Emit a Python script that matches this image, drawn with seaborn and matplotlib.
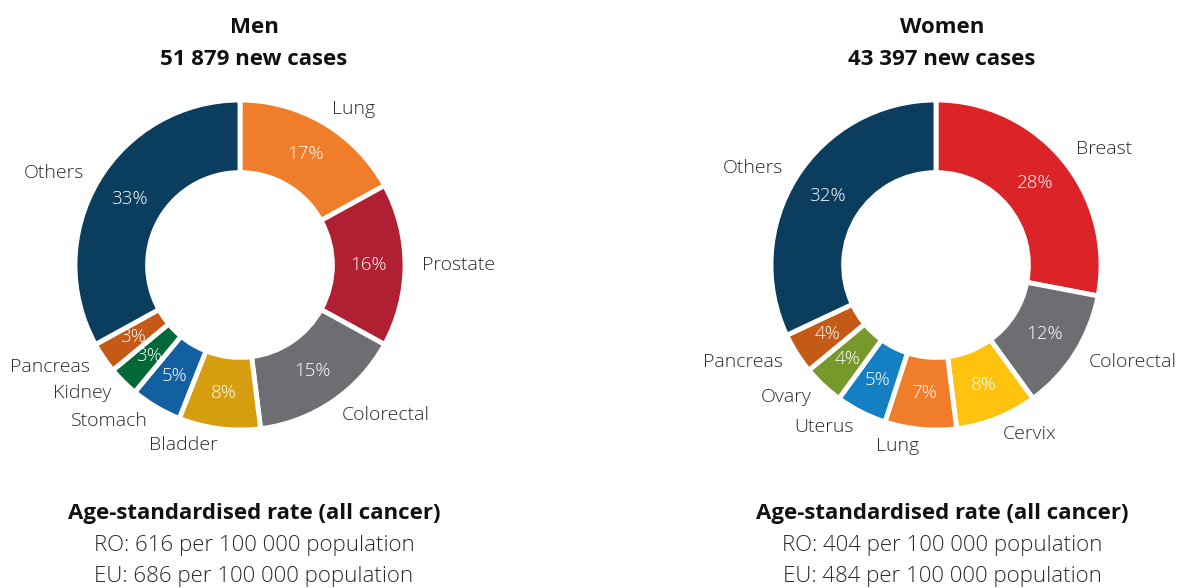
import matplotlib
matplotlib.use("Agg")
import matplotlib.pyplot as plt
import seaborn as sns

sns.set_theme(style="white")
plt.rcParams['font.family'] = ['Open Sans', 'DejaVu Sans']

# ---- data ----
men_labels = ["Lung", "Prostate", "Colorectal", "Bladder", "Stomach", "Kidney", "Pancreas", "Others"]
men_values = [17, 16, 15, 8, 5, 3, 3, 33]
men_colors = ["#F07D2A", "#B01F32", "#6D6E71", "#D69E0E", "#1260A0", "#006837", "#C55A17", "#0A3D5E"]

women_labels = ["Breast", "Colorectal", "Cervix", "Lung", "Uterus", "Ovary", "Pancreas", "Others"]
women_values = [28, 12, 8, 7, 5, 4, 4, 32]
women_colors = ["#DC2328", "#6D6E71", "#FFC20E", "#F07D2A", "#1380C4", "#77982A", "#C55A17", "#0A3D5E"]

title_top = ["Men", "Women"]
title_cases = ["51 879 new cases", "43 397 new cases"]
footer_head = "Age-standardised rate (all cancer)"
footer_ro = ["RO: 616 per 100 000 population", "RO: 404 per 100 000 population"]
footer_eu = ["EU: 686 per 100 000 population", "EU: 484 per 100 000 population"]

W, H = 1180, 588
fig = plt.figure(figsize=(W / 100, H / 100), dpi=100)

R_PX = 165
LIM = 1.4
centers = [(240, 265), (936, 265)]
text_x = [254, 942]

for i, (labels, values, colors) in enumerate([(men_labels, men_values, men_colors),
                                                (women_labels, women_values, women_colors)]):
    cx, cy = centers[i]
    half = R_PX * LIM
    ax = fig.add_axes([(cx - half) / W, (H - cy - half) / H, 2 * half / W, 2 * half / H])
    wedges, texts, autotexts = ax.pie(
        values, labels=labels, colors=colors, startangle=90, counterclock=False,
        autopct='%.0f%%', pctdistance=0.78, labeldistance=1.10,
        wedgeprops=dict(width=0.44, edgecolor='white', linewidth=3.5),
        textprops=dict(fontsize=14, color='#2a2a2a', fontweight='light'))
    for t in autotexts:
        t.set_color('white')
        t.set_fontsize(13.5)
    ax.set_xlim(-LIM, LIM)
    ax.set_ylim(-LIM, LIM)
    ax.set_aspect('equal')
    ax.axis('off')

    fig.text(text_x[i] / W, 1 - 25 / H, title_top[i], ha='center', va='center_baseline',
             fontsize=16, fontweight='bold', color='#111111')
    fig.text(text_x[i] / W, 1 - 57 / H, title_cases[i], ha='center', va='center_baseline',
             fontsize=16, fontweight='bold', color='#111111')
    fig.text(text_x[i] / W, 1 - 511 / H, footer_head, ha='center', va='center_baseline',
             fontsize=16, fontweight='bold', color='#111111')
    fig.text(text_x[i] / W, 1 - 543 / H, footer_ro[i], ha='center', va='center_baseline',
             fontsize=16, color='#2a2a2a', fontweight='light')
    fig.text(text_x[i] / W, 1 - 574 / H, footer_eu[i], ha='center', va='center_baseline',
             fontsize=16, color='#2a2a2a', fontweight='light')

fig.savefig("out.png", dpi=100, facecolor='white')
